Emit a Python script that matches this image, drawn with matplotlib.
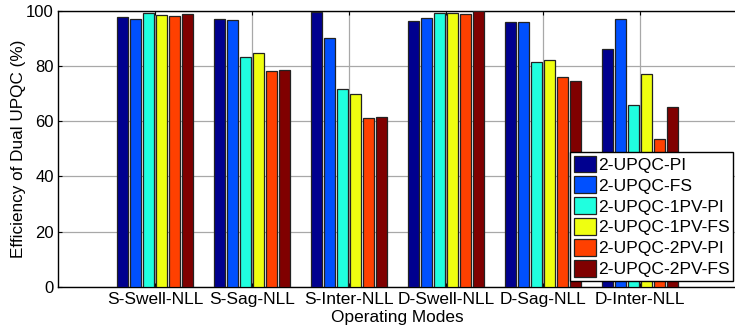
import numpy as np
import matplotlib
matplotlib.use("Agg")
import matplotlib.pyplot as plt
from matplotlib.patches import Patch

plt.rcParams['font.family'] = ['Liberation Sans', 'DejaVu Sans']

modes = ["S-Swell-NLL", "S-Sag-NLL", "S-Inter-NLL", "D-Swell-NLL", "D-Sag-NLL", "D-Inter-NLL"]
series_names = ["2-UPQC-PI", "2-UPQC-FS", "2-UPQC-1PV-PI", "2-UPQC-1PV-FS", "2-UPQC-2PV-PI", "2-UPQC-2PV-FS"]

upqc_pi = [97.7, 97.0, 99.4, 96.2, 95.9, 86.2]
upqc_fs = [97.0, 96.8, 90.2, 97.2, 96.0, 96.9]
upqc_1pv_pi = [99.3, 83.1, 71.8, 99.0, 81.3, 66.0]
upqc_1pv_fs = [98.4, 84.6, 69.9, 99.3, 82.2, 77.0]
upqc_2pv_pi = [98.0, 78.1, 61.0, 98.9, 76.1, 53.4]
upqc_2pv_fs = [98.8, 78.6, 61.6, 100.0, 74.7, 65.3]

yticks = [0, 20, 40, 60, 80, 100]

colors = ["#00008F", "#0050FF", "#20FFDF", "#EFFF10", "#FF4000", "#800000"]

series = [upqc_pi, upqc_fs, upqc_1pv_pi, upqc_1pv_fs, upqc_2pv_pi, upqc_2pv_fs]

fig = plt.figure(figsize=(7.35, 3.3), dpi=100)
ax = fig.add_axes([58 / 735, 1 - 287 / 330, (737 - 58) / 735, (287 - 10.7) / 330])

x = np.arange(1, len(modes) + 1)
pitch = 0.134
width = 0.112
for i, (vals, col) in enumerate(zip(series, colors)):
    ax.bar(x + (i - 2.5) * pitch, vals, width=width, color=col,
           edgecolor="#222222", linewidth=0.9, zorder=3)

ax.set_xlim(0, 7)
ax.set_ylim(0, 100)
ax.set_xticks(x)
ax.set_xticklabels(modes, fontsize=12.5)
ax.set_yticks(yticks)
ax.set_yticklabels([str(t) for t in yticks], fontsize=12)
ax.grid(True, color="#a8a8a8", linewidth=0.9, zorder=0)
ax.set_axisbelow(True)
ax.tick_params(direction="in", length=3, width=0.8,
               top=True, right=False, colors="black")
ax.tick_params(axis="x", pad=3.5)
ax.tick_params(axis="y", pad=3)
for s in ax.spines.values():
    s.set_linewidth(1.0)

ax.set_ylabel("Efficiency of Dual UPQC (%)", fontsize=12.3, labelpad=0)
ax.set_xlabel("Operating Modes", fontsize=12.4, labelpad=2.5)

handles = [Patch(facecolor=c, edgecolor="#222222", linewidth=0.9) for c in colors]
leg = fig.legend(handles, series_names, loc="upper left",
                 bbox_to_anchor=(570 / 735, 1 - 152 / 330),
                 fontsize=12.6, frameon=True, fancybox=False, framealpha=1,
                 edgecolor="black", handlelength=1.3, handleheight=1.1,
                 handletextpad=0.12, labelspacing=0.2, borderpad=0.2,
                 borderaxespad=0)
leg.get_frame().set_linewidth(1.0)

fig.savefig("out.png", dpi=100)
